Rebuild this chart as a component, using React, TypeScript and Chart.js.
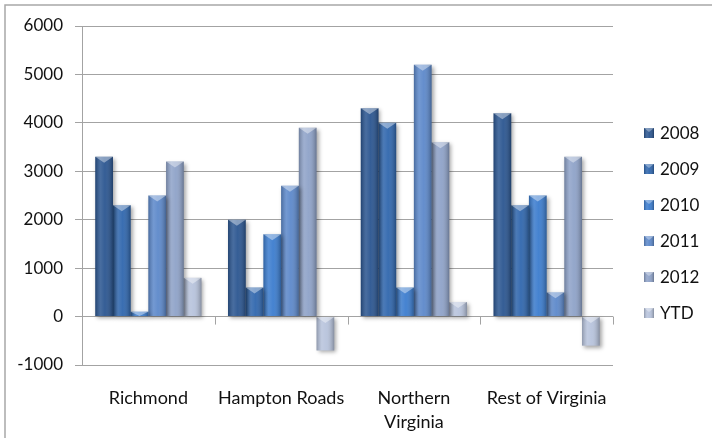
import React, { useEffect, useRef } from "react";
import { Chart, registerables } from "chart.js";

Chart.register(...registerables);

const categories: (string | string[])[] = ["Richmond", "Hampton Roads", ["Northern", "Virginia"], "Rest of Virginia"];
const seriesLabels = ["2008", "2009", "2010", "2011", "2012", "YTD"];
const values2008 = [3300, 2000, 4300, 4200];
const values2009 = [2300, 600, 4000, 2300];
const values2010 = [100, 1700, 600, 2500];
const values2011 = [2500, 2700, 5200, 500];
const values2012 = [3200, 3900, 3600, 3300];
const valuesYTD = [800, -700, 300, -600];
const yMin = -1000;
const yMax = 6000;
const yStep = 1000;

const seriesValues = [values2008, values2009, values2010, values2011, values2012, valuesYTD];
const seriesColors = ["#2a5590", "#2f66ad", "#3b7cce", "#5c88ca", "#8ea2c8", "#b7c3dc"];

const FONT = "Lato, 'Open Sans', sans-serif";
const GRID = "#a3a3a3";
const TEXT = "#111111";

function shade(ctx: CanvasRenderingContext2D, left: number, top: number, w: number, h: number) {
  const g = ctx.createLinearGradient(left, 0, left + w, 0);
  g.addColorStop(0, "rgba(0,0,0,0.22)");
  g.addColorStop(0.3, "rgba(255,255,255,0.14)");
  g.addColorStop(0.55, "rgba(255,255,255,0.05)");
  g.addColorStop(1, "rgba(0,0,0,0.28)");
  ctx.fillStyle = g;
  ctx.fillRect(left, top, w, h);
}

const decorPlugin = {
  id: "decor",
  beforeDraw(chart: any) {
    const ctx = chart.ctx as CanvasRenderingContext2D;
    ctx.save();
    ctx.fillStyle = "#ffffff";
    ctx.fillRect(0, 0, chart.width, chart.height);
    ctx.strokeStyle = "#a8a8a8";
    ctx.lineWidth = 1.5;
    ctx.beginPath();
    ctx.moveTo(5, chart.height);
    ctx.lineTo(5, 5);
    ctx.lineTo(chart.width, 5);
    ctx.stroke();
    ctx.restore();
  },
  beforeDatasetsDraw(chart: any) {
    const ctx = chart.ctx as CanvasRenderingContext2D;
    ctx.save();
    ctx.shadowColor = "rgba(0,0,0,0.35)";
    ctx.shadowBlur = 4;
    ctx.shadowOffsetX = 2;
    ctx.shadowOffsetY = 2;
  },
  afterDatasetsDraw(chart: any) {
    const ctx = chart.ctx as CanvasRenderingContext2D;
    ctx.restore();
    ctx.save();
    chart.data.datasets.forEach((_: any, di: number) => {
      const meta = chart.getDatasetMeta(di);
      meta.data.forEach((el: any) => {
        const w = el.width;
        const left = el.x - w / 2;
        const top = Math.min(el.y, el.base);
        const h = Math.abs(el.base - el.y);
        shade(ctx, left, top, w, h);
        const capH = Math.min(6, h);
        ctx.fillStyle = "rgba(255,255,255,0.4)";
        ctx.beginPath();
        ctx.moveTo(left, top);
        ctx.lineTo(left + w, top);
        ctx.lineTo(el.x, top + capH);
        ctx.closePath();
        ctx.fill();
      });
    });
    // category tick marks on the zero line
    const area = chart.chartArea;
    const y0 = chart.scales.y.getPixelForValue(0);
    const n = chart.data.labels.length;
    ctx.strokeStyle = GRID;
    ctx.lineWidth = 1;
    for (let i = 1; i <= n; i++) {
      const x = Math.round(area.left + (i * (area.right - area.left)) / n) + 0.5;
      ctx.beginPath();
      ctx.moveTo(x, y0);
      ctx.lineTo(x, y0 + 8);
      ctx.stroke();
    }
    ctx.restore();
  },
  afterDraw(chart: any) {
    const ctx = chart.ctx as CanvasRenderingContext2D;
    ctx.save();
    const startY = 133;
    const gap = 36;
    chart.data.datasets.forEach((ds: any, i: number) => {
      const cy = startY + i * gap;
      const bx = 644;
      const bs = 10;
      ctx.fillStyle = ds.backgroundColor;
      ctx.fillRect(bx, cy - bs / 2, bs, bs);
      shade(ctx, bx, cy - bs / 2, bs, bs);
      ctx.fillStyle = "rgba(255,255,255,0.35)";
      ctx.beginPath();
      ctx.moveTo(bx, cy - bs / 2);
      ctx.lineTo(bx + bs, cy - bs / 2);
      ctx.lineTo(bx + bs / 2, cy - bs / 2 + 4);
      ctx.closePath();
      ctx.fill();
      ctx.fillStyle = TEXT;
      ctx.font = `17px ${FONT}`;
      ctx.textAlign = "left";
      ctx.textBaseline = "middle";
      ctx.fillText(ds.label, 660, cy + 1);
    });
    ctx.restore();
  },
};

export default function App() {
  const ref = useRef<HTMLCanvasElement | null>(null);

  useEffect(() => {
    document.body.style.margin = "0";
    if (!ref.current) return;
    const chart = new Chart(ref.current, {
      type: "bar",
      data: {
        labels: categories,
        datasets: seriesLabels.map((label, i) => ({
          label,
          data: seriesValues[i],
          backgroundColor: seriesColors[i],
          borderWidth: 0,
          categoryPercentage: 0.8,
          barPercentage: 1.0,
        })),
      },
      options: {
        responsive: false,
        animation: false,
        devicePixelRatio: 1,
        layout: { padding: { left: 0, right: 99, top: 26, bottom: 0 } },
        plugins: {
          legend: { display: false },
          tooltip: { enabled: false },
        },
        scales: {
          x: {
            grid: { display: false },
            border: { display: false },
            ticks: {
              color: TEXT,
              font: { family: FONT, size: 18, lineHeight: 1.35 },
              padding: 13,
              maxRotation: 0,
              autoSkip: false,
            },
            afterFit(scale: any) {
              scale.height = 73;
            },
          },
          y: {
            min: yMin,
            max: yMax,
            grid: { color: GRID, tickLength: 7, lineWidth: 1 },
            border: { display: true, color: GRID },
            ticks: {
              stepSize: yStep,
              color: TEXT,
              font: { family: FONT, size: 17 },
              padding: 12,
              callback: (v: any) => String(v),
            },
            afterFit(scale: any) {
              scale.width = 82;
            },
          },
        },
      },
      plugins: [decorPlugin],
    });
    return () => chart.destroy();
  }, []);

  return (
    <div style={{ position: "absolute", left: 0, top: 0, width: 712, height: 438 }}>
      <canvas ref={ref} width={712} height={438} />
    </div>
  );
}
